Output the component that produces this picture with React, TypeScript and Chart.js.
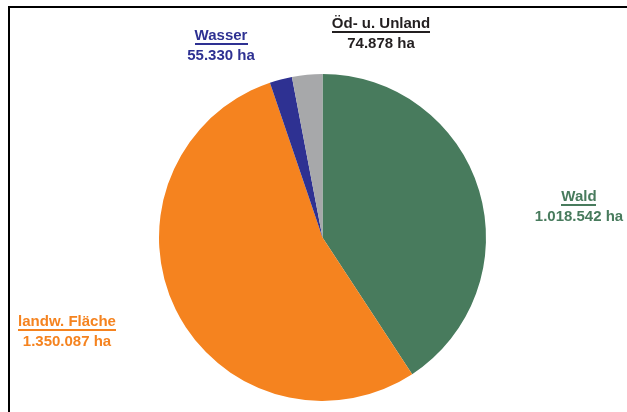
import React, { useEffect, useRef } from "react";
import { Chart, registerables } from "chart.js";

Chart.register(...registerables);

const categories = ["Wald", "landw. Fläche", "Wasser", "Öd- u. Unland"];
const areas = [1018542, 1350087, 55330, 74878];
const valueLabels = ["1.018.542 ha", "1.350.087 ha", "55.330 ha", "74.878 ha"];
const sliceColors = ["#487b5d", "#f5831f", "#2e3192", "#a7a8aa"];
const textColors = ["#487b5d", "#f5831f", "#2e3192", "#231f20"];

// label anchor positions (centre x, first line baseline y)
const labelPos = [
  { x: 579, y: 201 },
  { x: 67, y: 326 },
  { x: 221, y: 40 },
  { x: 381, y: 28 },
];

const labelPlugin = {
  id: "pieLabels",
  afterDraw(chart: any) {
    const ctx = chart.ctx;
    ctx.save();
    ctx.font = "bold 15px 'Liberation Sans', Arial, sans-serif";
    ctx.textAlign = "center";
    ctx.textBaseline = "alphabetic";
    categories.forEach((name, i) => {
      const p = labelPos[i];
      ctx.fillStyle = textColors[i];
      ctx.fillText(name, p.x, p.y);
      const w = ctx.measureText(name).width;
      ctx.fillRect(Math.round(p.x - w / 2), p.y + 3, Math.round(w), 2);
      ctx.fillText(valueLabels[i], p.x, p.y + 20);
    });
    ctx.restore();
  },
};

export default function App() {
  const ref = useRef<HTMLCanvasElement>(null);
  useEffect(() => {
    if (!ref.current) return;
    const chart = new Chart(ref.current, {
      type: "pie",
      data: {
        labels: categories,
        datasets: [
          {
            data: areas,
            backgroundColor: sliceColors,
            borderWidth: 0,
          },
        ],
      },
      options: {
        animation: false,
        responsive: false,
        layout: { padding: { left: 159, right: 141, top: 74, bottom: 11 } },
        plugins: {
          legend: { display: false },
          tooltip: { enabled: false },
        },
      },
      plugins: [labelPlugin],
    });
    return () => chart.destroy();
  }, []);
  return (
    <div style={{ position: "absolute", left: 0, top: 0, width: 627, height: 412, background: "#fff" }}>
      <div
        style={{
          position: "absolute",
          left: 8,
          top: 6,
          width: 640,
          height: 420,
          borderLeft: "2px solid #000",
          borderTop: "2px solid #000",
        }}
      />
      <canvas ref={ref} width={627} height={412} style={{ position: "absolute", left: 0, top: 0 }} />
    </div>
  );
}
